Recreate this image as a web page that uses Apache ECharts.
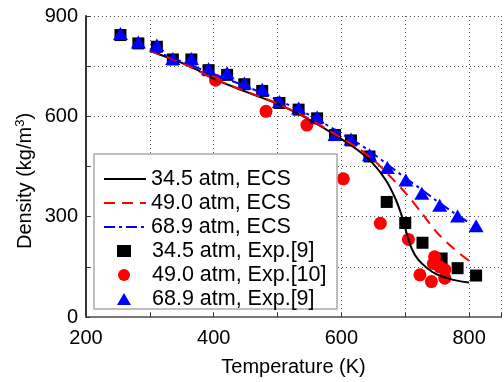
<!DOCTYPE html>
<html>
<head>
<meta charset="utf-8">
<script src="https://cdn.jsdelivr.net/npm/echarts@6/dist/echarts.min.js"></script>
<style>
  html, body { margin: 0; padding: 0; background: #fff; }
  #chart { width: 504px; height: 382px; }
</style>
</head>
<body>
<div id="chart"></div>
<script>
// ECS model curves [T (K), density (kg/m3)]
const ecs345 = [[300, 796], [325, 778], [350, 760], [375, 738], [400, 712], [450, 674], [500, 637], [550, 590], [600, 532], [625, 500], [650, 458], [670, 408], [685, 352], [695, 300], [702, 252], [710, 205], [720, 172], [735, 145], [750, 127], [775, 111], [800, 103]];
const ecs490 = [[300, 796], [350, 760], [400, 713], [450, 675], [500, 638], [550, 592], [600, 535], [625, 506], [650, 470], [675, 423], [700, 372], [725, 313], [750, 252], [775, 206], [800, 168]];
const ecs689 = [[300, 800], [350, 764], [400, 726], [450, 690], [500, 649], [550, 604], [600, 548], [625, 521], [650, 488], [675, 452], [700, 416], [725, 382], [750, 346], [775, 313], [800, 282]];

// experimental points
const exp345 = [[254, 843], [282, 818], [311, 808], [336, 770], [365, 770], [392, 738], [421, 724], [448, 696], [476, 676], [503, 640], [533, 620], [562, 594], [590, 544], [615, 528], [644, 480], [671, 344], [700, 281], [727, 222], [757, 175], [782, 146], [811, 124]];
const exp490 = [[403, 708], [482, 615], [546, 574], [603, 413], [661, 280], [705, 232], [723, 126], [741, 106], [746, 180], [744, 160], [754, 150], [762, 141], [762, 116]];
const exp689 = [[254, 848], [282, 822], [311, 813], [336, 773], [365, 773], [392, 742], [421, 730], [448, 700], [476, 681], [503, 644], [533, 625], [562, 598], [590, 546], [615, 532], [644, 485], [672, 447], [701, 410], [726, 370], [754, 334], [782, 302], [811, 273]];

const lineNames = ['34.5 atm, ECS', '49.0 atm, ECS', '68.9 atm, ECS'];
const expNames = ['34.5 atm, Exp.[9]', '49.0 atm, Exp.[10]', '68.9 atm, Exp.[9]'];

const font = 'Liberation Sans, Arial, sans-serif';
const gridLine = { show: true, lineStyle: { color: '#555', type: [1, 3], width: 1 } };
const legendText = { fontSize: 21.5, color: '#000', fontFamily: font, lineHeight: 22 };

const chart = echarts.init(document.getElementById('chart'));
chart.setOption({
  animation: false,
  textStyle: { fontFamily: font },
  grid: { left: 86, top: 16, right: 0, bottom: 59 },
  xAxis: [{
    type: 'value', min: 200, max: 850, interval: 100,
    name: 'Temperature (K)', nameLocation: 'middle', nameGap: 40,
    nameTextStyle: { fontSize: 20, color: '#000', fontFamily: font },
    axisLine: { show: true, onZero: false, lineStyle: { color: '#333', width: 2 } },
    axisTick: { show: true, inside: true, length: 4, lineStyle: { color: '#333' } },
    axisLabel: { fontSize: 20, color: '#000', margin: 11,
      formatter: v => (v % 200 === 0 ? String(v) : '') },
    splitLine: gridLine
  }, {
    type: 'value', position: 'top', min: 200, max: 850,
    axisLine: { show: true, lineStyle: { color: '#777', width: 2 } },
    axisTick: { show: false }, axisLabel: { show: false }, splitLine: { show: false }
  }],
  yAxis: {
    type: 'value', min: 0, max: 900, interval: 150,
    axisLine: { show: true, lineStyle: { color: '#333', width: 2 } },
    axisTick: { show: true, inside: true, length: 4, lineStyle: { color: '#333' } },
    axisLabel: { fontSize: 20, color: '#000', margin: 8,
      formatter: v => (v % 300 === 0 ? String(v) : '') },
    splitLine: gridLine
  },
  graphic: [{
    type: 'text', x: 25, y: 181, rotation: Math.PI / 2,
    style: {
      text: '{a|Density (kg/m}{s|3}{a|)}',
      align: 'center', verticalAlign: 'middle',
      rich: {
        a: { fontSize: 20, fontFamily: font, fill: '#000' },
        s: { fontSize: 13, fontFamily: font, fill: '#000', verticalAlign: 'top', padding: [0, 0, 10, 0] }
      }
    }
  }, {
    type: 'rect', z: 10,
    shape: { x: 94, y: 154, width: 243, height: 155 },
    style: { fill: '#fff', stroke: '#aaa', lineWidth: 1.5 }
  }],
  legend: [{
    orient: 'vertical', left: 103, top: 168, padding: 0, itemGap: 2,
    itemWidth: 42, itemHeight: 12, z: 12,
    textStyle: legendText,
    data: lineNames.map(n => ({ name: n, itemStyle: { opacity: 0 } }))
  }, {
    orient: 'vertical', left: 117, top: 240, padding: 0, itemGap: 2,
    itemWidth: 14, itemHeight: 12, z: 12,
    textStyle: Object.assign({ padding: [0, 0, 0, 16] }, legendText),
    data: expNames
  }],
  series: [
    { name: expNames[0], type: 'scatter', data: exp345, symbol: 'rect', symbolSize: 12,
      itemStyle: { color: '#000', opacity: 1 }, z: 2 },
    { name: expNames[1], type: 'scatter', data: exp490, symbol: 'circle', symbolSize: 13,
      itemStyle: { color: '#ff0000', opacity: 1 }, z: 2 },
    { name: expNames[2], type: 'scatter', data: exp689, symbol: 'triangle', symbolSize: [15, 13],
      itemStyle: { color: '#0000ff', opacity: 1 }, z: 2 },
    { name: lineNames[0], type: 'line', data: ecs345, smooth: 0.3, symbol: 'none',
      lineStyle: { color: '#000', width: 2 }, itemStyle: { color: '#000' }, z: 4 },
    { name: lineNames[1], type: 'line', data: ecs490, smooth: 0.3, symbol: 'none',
      lineStyle: { color: '#ff0000', width: 2, type: [11, 7] }, itemStyle: { color: '#ff0000' }, z: 4 },
    { name: lineNames[2], type: 'line', data: ecs689, smooth: 0.3, symbol: 'none',
      lineStyle: { color: '#0000ff', width: 2, type: [11, 4, 3, 4] }, itemStyle: { color: '#0000ff' }, z: 4 }
  ]
});
</script>
</body>
</html>
